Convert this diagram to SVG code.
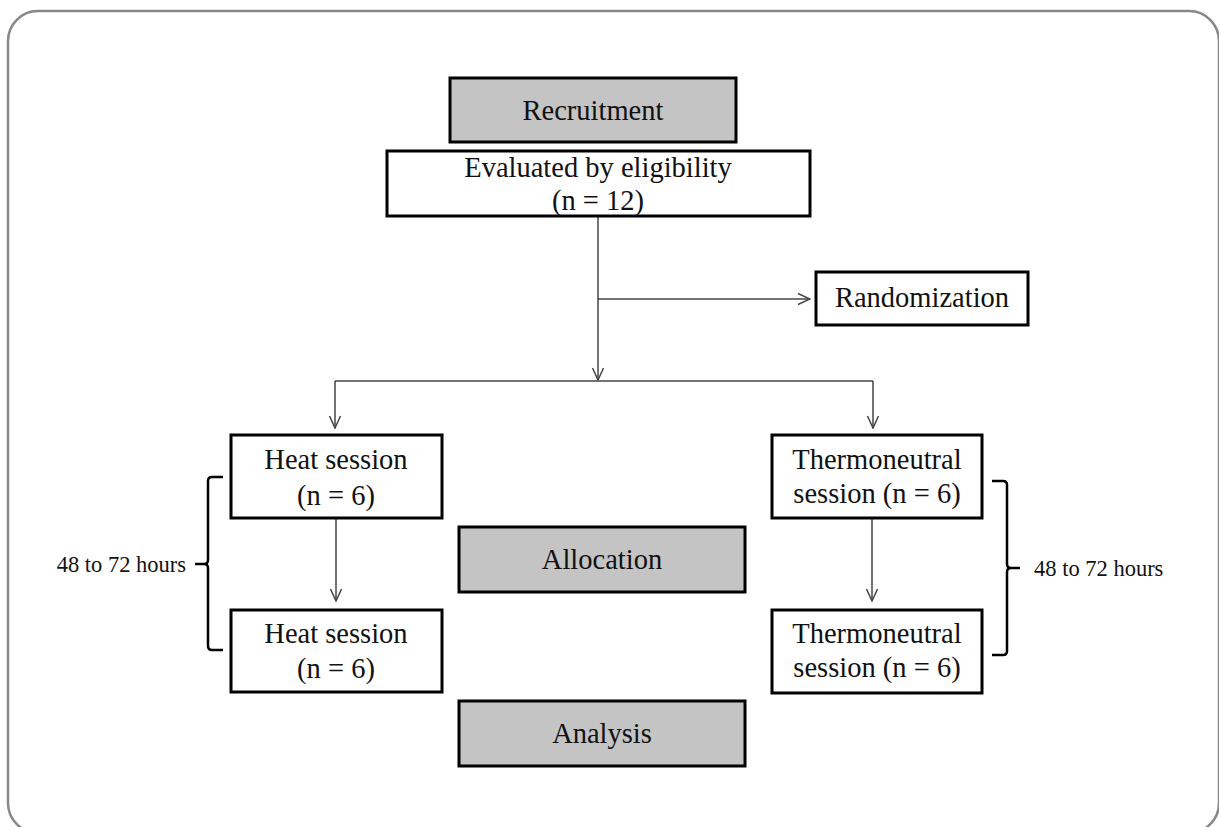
<svg xmlns="http://www.w3.org/2000/svg" width="1219" height="827" viewBox="0 0 1219 827">
<style>
.box{fill:#fff;stroke:#000;stroke-width:3}
.grey{fill:#c4c4c4;stroke:#000;stroke-width:3}
.t{font-family:"Liberation Serif","Times New Roman",serif;font-size:28.5px;fill:#111;text-anchor:middle}
.s{font-family:"Liberation Serif","Times New Roman",serif;font-size:22.5px;fill:#111}
.c{fill:none;stroke:#444;stroke-width:1.5}
.br{fill:none;stroke:#000;stroke-width:2.5}
</style>
<defs>
<marker id="ah" viewBox="0 0 14 14" refX="13" refY="7" markerWidth="14" markerHeight="14" markerUnits="userSpaceOnUse" orient="auto">
<path d="M1,1.5 L13,7 L1,12.5" fill="none" stroke="#444" stroke-width="1.5"/>
</marker>
</defs>
<rect x="8" y="11" width="1211" height="822" rx="30" ry="30" fill="#fff" stroke="#888" stroke-width="2.5"/>
<g id="connectors">
<path class="c" d="M598,216 V380" marker-end="url(#ah)"/>
<path class="c" d="M598,299 H810" marker-end="url(#ah)"/>
<path class="c" d="M335,381 H873"/>
<path class="c" d="M335,381 V428" marker-end="url(#ah)"/>
<path class="c" d="M873,381 V428" marker-end="url(#ah)"/>
<path class="c" d="M336,518 V601" marker-end="url(#ah)"/>
<path class="c" d="M872,518 V601" marker-end="url(#ah)"/>
</g>
<g id="recruitment">
<rect class="grey" x="450" y="78" width="286" height="64"/>
<text class="t" x="593" y="120">Recruitment</text>
</g>
<g id="evaluated">
<rect class="box" x="387" y="151" width="423" height="65"/>
<text class="t" x="598" y="177">Evaluated by eligibility</text>
<text class="t" x="598" y="210">(n = 12)</text>
</g>
<g id="randomization">
<rect class="box" x="816" y="272" width="212" height="53"/>
<text class="t" x="922" y="307">Randomization</text>
</g>
<g id="heat1">
<rect class="box" x="231" y="435" width="211" height="83"/>
<text class="t" x="336" y="469">Heat session</text>
<text class="t" x="336" y="505">(n = 6)</text>
</g>
<g id="heat2">
<rect class="box" x="231" y="610" width="211" height="82"/>
<text class="t" x="336" y="643">Heat session</text>
<text class="t" x="336" y="678">(n = 6)</text>
</g>
<g id="thermo1">
<rect class="box" x="772" y="435" width="210" height="83"/>
<text class="t" x="877" y="469">Thermoneutral</text>
<text class="t" x="877" y="503">session (n = 6)</text>
</g>
<g id="thermo2">
<rect class="box" x="772" y="610" width="210" height="83"/>
<text class="t" x="877" y="643">Thermoneutral</text>
<text class="t" x="877" y="677">session (n = 6)</text>
</g>
<g id="allocation">
<rect class="grey" x="459" y="527" width="286" height="65"/>
<text class="t" x="602" y="569">Allocation</text>
</g>
<g id="analysis">
<rect class="grey" x="459" y="701" width="286" height="65"/>
<text class="t" x="602" y="743">Analysis</text>
</g>
<g id="bracket-left">
<path class="br" d="M223,477 H212 Q208,477 208,481 V560 Q208,564 204,564 H195 M204,564 Q208,564 208,568 V646 Q208,650 212,650 H223"/>
<text class="s" x="186" y="572" text-anchor="end">48 to 72 hours</text>
</g>
<g id="bracket-right">
<path class="br" d="M992,481 H1003 Q1007,481 1007,485 V564 Q1007,568 1011,568 H1020 M1011,568 Q1007,568 1007,572 V651 Q1007,655 1003,655 H992"/>
<text class="s" x="1034" y="576">48 to 72 hours</text>
</g>
</svg>
